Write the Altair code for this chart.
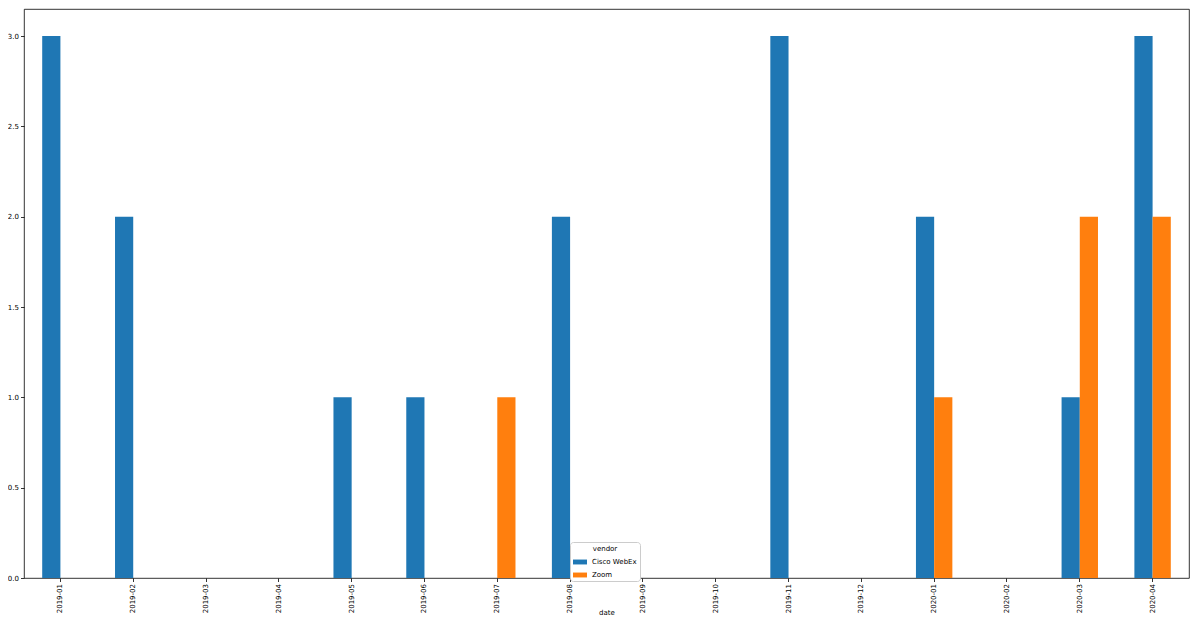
import altair as alt
import pandas as pd

dates = ["2019-01", "2019-02", "2019-03", "2019-04", "2019-05", "2019-06", "2019-07", "2019-08",
         "2019-09", "2019-10", "2019-11", "2019-12", "2020-01", "2020-02", "2020-03", "2020-04"]
vendors = ["Cisco WebEx", "Zoom"]
webex = [3, 2, 0, 0, 1, 1, 0, 2, 0, 0, 3, 0, 2, 0, 1, 3]
zoom = [0, 0, 0, 0, 0, 0, 1, 0, 0, 0, 0, 0, 1, 0, 2, 2]
colors = ["#1f77b4", "#ff7f0e"]
yticks = [0.0, 0.5, 1.0, 1.5, 2.0, 2.5, 3.0]

rows = []
for d, w, z in zip(dates, webex, zoom):
    rows.append({"date": d, "vendor": vendors[0], "count": w})
    rows.append({"date": d, "vendor": vendors[1], "count": z})
df = pd.DataFrame(rows)

chart = alt.Chart(df).mark_bar().encode(
    x=alt.X("date:N", sort=dates, title="date",
            scale=alt.Scale(paddingInner=0.5, paddingOuter=0.25),
            axis=alt.Axis(labelAngle=270, labelAlign="right", labelBaseline="middle",
                          titleFontSize=7, titleFontWeight="normal", titlePadding=-4)),
    xOffset=alt.XOffset("vendor:N", sort=vendors, scale=alt.Scale(paddingInner=0, paddingOuter=0)),
    y=alt.Y("count:Q", title=None, scale=alt.Scale(domain=[0, 3.15], nice=False, zero=True),
            axis=alt.Axis(values=yticks, format=".1f", grid=False)),
    color=alt.Color("vendor:N", sort=vendors, scale=alt.Scale(domain=vendors, range=colors),
                    legend=alt.Legend(title="vendor", orient="none", legendX=546, legendY=533,
                                      symbolType="M-1,-0.35L1,-0.35L1,0.35L-1,0.35Z",
                                      symbolSize=196, symbolStrokeWidth=0,
                                      fillColor="white", strokeColor="#cccccc",
                                      cornerRadius=3, padding=3, rowPadding=3,
                                      labelOffset=5,
                                      titleAnchor="middle", titleFontSize=7,
                                      titleFontWeight="normal", titleColor="#000000",
                                      labelFontSize=7, labelColor="#000000",
                                      titleFont="DejaVu Sans", labelFont="DejaVu Sans",
                                      titlePadding=3)),
).properties(
    width=1165, height=569,
    autosize=alt.AutoSizeParams(type="none"),
    padding={"left": 16, "top": 1, "right": 2, "bottom": 41},
).configure_view(
    stroke="#000000", strokeWidth=0.8
).configure_axis(
    domain=False, labelFont="DejaVu Sans", labelFontSize=7, labelColor="#000000",
    tickColor="#000000", tickSize=3.5, tickWidth=0.8, labelPadding=2,
    titleFont="DejaVu Sans", titleColor="#000000"
)

chart.save("out.html", embed_options={"renderer": "svg", "actions": False})
